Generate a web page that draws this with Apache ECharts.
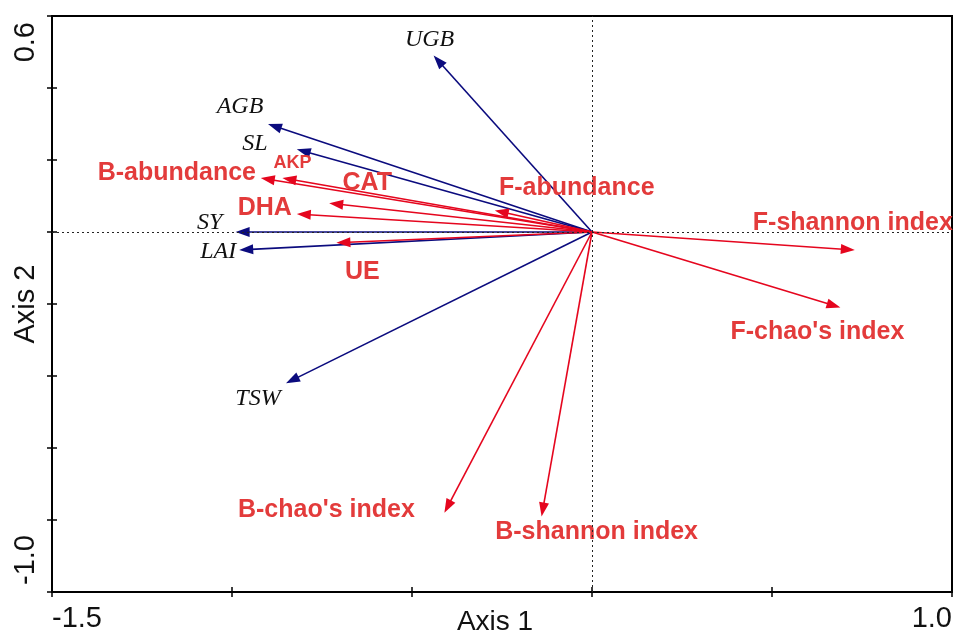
<!DOCTYPE html>
<html><head><meta charset="utf-8">
<script src="https://cdn.jsdelivr.net/npm/echarts@6/dist/echarts.min.js"></script>
<style>html,body{margin:0;padding:0;background:#fff}#c{width:956px;height:632px}</style>
</head><body><div id="c"></div><script>
// ---- data ----
const envNames = ['UGB', 'AGB', 'SL', 'SY', 'LAI', 'TSW'];
const envX = [-0.44, -0.90, -0.82, -0.99, -0.98, -0.85];
const envY = [0.49, 0.30, 0.23, 0.00, -0.05, -0.42];
const bioNames = ['B-abundance', 'AKP', 'CAT', 'DHA', 'UE', 'F-abundance', 'F-shannon index', "F-chao's index", "B-chao's index", 'B-shannon index'];
const bioX = [-0.92, -0.86, -0.73, -0.82, -0.71, -0.27, 0.73, 0.69, -0.41, -0.14];
const bioY = [0.15, 0.15, 0.08, 0.05, -0.03, 0.06, -0.05, -0.21, -0.78, -0.79];
const xTickValues = [-1.5, 1.0];
const xTickLabels = ['-1.5', '1.0'];
const yTickValues = [-1.0, 0.6];
const yTickLabels = ['-1.0', '0.6'];
const axisTitles = ['Axis 1', 'Axis 2'];

// ---- layout / style (pixel offsets of labels relative to arrow tips) ----
const labelOffset = {
  'UGB': [-4, -16], 'AGB': [-28, -17], 'SL': [-42, -6], 'SY': [-26, -9], 'LAI': [-21, 2], 'TSW': [-28, 15],
  'B-abundance': [-84, -5], 'AKP': [10, -15], 'CAT': [38, -20], 'DHA': [-32, -6], 'UE': [26, 29],
  'F-abundance': [82, -22], 'F-shannon index': [-2, -27], "F-chao's index": [-23, 25],
  "B-chao's index": [-118, -3], 'B-shannon index': [55, 16]
};
const labelSize = { 'AKP': 18 };
const SANS = "Arial, 'Liberation Sans', sans-serif";
const SERIF = "'Times New Roman', 'Liberation Serif', serif";

function tickFmt(values, labels) {
  return function (v) {
    const i = values.findIndex(t => Math.abs(t - v) < 1e-9);
    return i >= 0 ? labels[i] : '';
  };
}

function arrowSeries(names, xs, ys, lineColor, textColor, textFont) {
  return {
    type: 'custom',
    coordinateSystem: 'cartesian2d',
    silent: true,
    clip: false,
    data: xs.map((x, i) => [x, ys[i]]),
    renderItem: function (params, api) {
      const name = names[params.dataIndex];
      const p0 = api.coord([0, 0]);
      const p1 = api.coord([api.value(0), api.value(1)]);
      const dx = p1[0] - p0[0], dy = p1[1] - p0[1];
      const L = Math.hypot(dx, dy);
      const ux = dx / L, uy = dy / L;
      const hl = 14, hw = 5;
      const bx = p1[0] - ux * hl, by = p1[1] - uy * hl;
      const off = labelOffset[name] || [0, 0];
      const fs = labelSize[name] || textFont.size;
      return {
        type: 'group',
        children: [
          { type: 'line', shape: { x1: p0[0], y1: p0[1], x2: bx + ux * 2, y2: by + uy * 2 },
            style: { stroke: lineColor, lineWidth: 1.6 } },
          { type: 'polygon', shape: { points: [[p1[0], p1[1]], [bx - uy * hw, by + ux * hw], [bx + uy * hw, by - ux * hw]] },
            style: { fill: lineColor } },
          { type: 'text', x: p1[0] + off[0], y: p1[1] + off[1],
            style: { text: name, align: 'center', verticalAlign: 'middle', fill: textColor,
              font: textFont.style + ' ' + textFont.weight + ' ' + fs + 'px ' + textFont.family } }
        ]
      };
    }
  };
}

const chart = echarts.init(document.getElementById('c'), null, { renderer: 'canvas' });
const axisLineStyle = { color: '#000', width: 2 };
const tickStyle = { color: '#000', width: 1.5 };

chart.setOption({
  backgroundColor: '#fff',
  animation: false,
  grid: { left: 52, right: 4, top: 16, bottom: 40, outerBoundsMode: 'none', containLabel: false,
    show: true, borderColor: '#000', borderWidth: 2, backgroundColor: 'transparent' },
  xAxis: [
    {
      type: 'value', min: -1.5, max: 1.0, interval: 0.5, position: 'bottom',
      axisLine: { onZero: false, lineStyle: axisLineStyle },
      axisTick: { length: 5, lineStyle: tickStyle },
      splitLine: { show: false },
      axisLabel: { formatter: tickFmt(xTickValues, xTickLabels), fontSize: 29, color: '#111', fontFamily: SANS, margin: 12,
        alignMinLabel: 'left', alignMaxLabel: 'right' },
      name: axisTitles[0], nameLocation: 'middle', nameGap: 16, nameMoveOverlap: false,
      nameTextStyle: { fontSize: 28, color: '#111', fontFamily: SANS, padding: [0, 14, 0, 0] }
    },
    {
      type: 'value', min: -1.5, max: 1.0, interval: 0.5, position: 'bottom',
      axisLine: { show: false, onZero: false }, axisTick: { inside: true, length: 5, lineStyle: tickStyle },
      axisLabel: { show: false }, splitLine: { show: false }
    }
  ],
  yAxis: [
    {
      type: 'value', min: -1.0, max: 0.6, interval: 0.2, position: 'left',
      axisLine: { onZero: false, lineStyle: axisLineStyle },
      axisTick: { length: 5, lineStyle: tickStyle },
      splitLine: { show: false },
      axisLabel: { formatter: tickFmt(yTickValues, yTickLabels), fontSize: 29, color: '#111', fontFamily: SANS, margin: 12,
        rotate: 90, alignMinLabel: 'left', alignMaxLabel: 'right', padding: [0, 6, 0, 7] },
      name: axisTitles[1], nameLocation: 'middle', nameGap: 12, nameMoveOverlap: false,
      nameTextStyle: { fontSize: 29, color: '#111', fontFamily: SANS }
    },
    {
      type: 'value', min: -1.0, max: 0.6, interval: 0.2, position: 'left',
      axisLine: { show: false, onZero: false }, axisTick: { inside: true, length: 5, lineStyle: tickStyle },
      axisLabel: { show: false }, splitLine: { show: false }
    }
  ],
  series: [
    {
      type: 'line', data: [], silent: true,
      markLine: {
        silent: true, symbol: 'none', label: { show: false },
        lineStyle: { color: '#222', width: 1, type: [2, 3] },
        data: [{ xAxis: 0 }, { yAxis: 0 }]
      }
    },
    arrowSeries(envNames, envX, envY, '#0b0b7e', '#111', { style: 'italic', weight: 'normal', size: 24, family: SERIF }),
    arrowSeries(bioNames, bioX, bioY, '#e5061e', '#e33b3b', { style: 'normal', weight: 'bold', size: 25, family: SANS })
  ]
});
</script></body></html>
